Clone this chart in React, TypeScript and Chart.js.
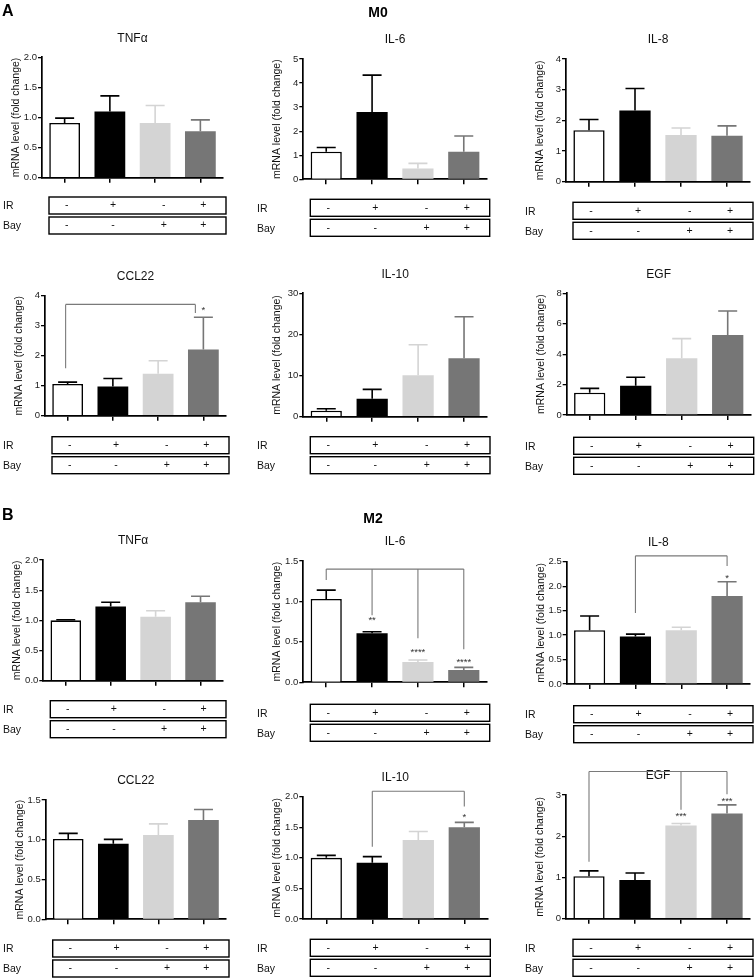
import React, { useEffect, useRef } from 'react';
import { Chart, registerables } from 'chart.js';
Chart.register(...registerables);

const FONT = '"Liberation Sans", Arial, Helvetica, sans-serif';

// ---- categories / table rows ----
const groups = ['Control', 'IR', 'Bay', 'IR + Bay'];
const irRow = ['-', '+', '-', '+'];
const bayRow = ['-', '-', '+', '+'];
const barColors = ['#ffffff', '#000000', '#d4d4d4', '#767676'];
const errColors = ['#000000', '#000000', '#d4d4d4', '#767676'];

// ---- M0 data (mean, SEM) ----
const m0TnfMean = [0.91, 1.10, 0.91, 0.77];
const m0TnfSem = [0.08, 0.26, 0.29, 0.19];
const m0Il6Mean = [1.15, 2.80, 0.45, 1.15];
const m0Il6Sem = [0.17, 1.53, 0.21, 0.65];
const m0Il8Mean = [1.68, 2.32, 1.52, 1.50];
const m0Il8Sem = [0.35, 0.72, 0.23, 0.32];
const m0Ccl22Mean = [1.06, 0.97, 1.40, 2.21];
const m0Ccl22Sem = [0.06, 0.27, 0.43, 1.07];
const m0Il10Mean = [1.46, 4.38, 10.1, 14.2];
const m0Il10Sem = [0.49, 2.27, 7.4, 10.1];
const m0EgfMean = [1.47, 1.93, 3.73, 5.26];
const m0EgfSem = [0.28, 0.55, 1.29, 1.58];

// ---- M2 data (mean, SEM) ----
const m2TnfMean = [1.00, 1.23, 1.06, 1.30];
const m2TnfSem = [0.01, 0.07, 0.10, 0.10];
const m2Il6Mean = [1.03, 0.606, 0.25, 0.152];
const m2Il6Sem = [0.11, 0.02, 0.026, 0.033];
const m2Il8Mean = [1.10, 0.97, 1.10, 1.80];
const m2Il8Sem = [0.29, 0.05, 0.06, 0.29];
const m2Ccl22Mean = [1.01, 0.95, 1.06, 1.25];
const m2Ccl22Sem = [0.07, 0.055, 0.14, 0.13];
const m2Il10Mean = [1.00, 0.92, 1.29, 1.50];
const m2Il10Sem = [0.04, 0.10, 0.14, 0.08];
const m2EgfMean = [1.03, 0.94, 2.26, 2.55];
const m2EgfSem = [0.13, 0.17, 0.05, 0.21];

// ---- axis ranges [max, step, decimals] ----
const m0Axes = [[2, 0.5, 1], [5, 1, 0], [4, 1, 0], [4, 1, 0], [30, 10, 0], [8, 2, 0]];
const m2Axes = [[2, 0.5, 1], [1.5, 0.5, 1], [2.5, 0.5, 1], [1.5, 0.5, 1], [2, 0.5, 1], [3, 1, 0]];
const panelTitles = ['TNFα', 'IL-6', 'IL-8', 'CCL22', 'IL-10', 'EGF'];

// ---- significance annotations (value units) ----
type Leg = { i: number; bottom: number; dx?: number };
type Bracket = { y: number; legs: Leg[] };
type Star = { i: number; y: number; text: string };
const m0Ccl22Brackets: Bracket[] = [{ y: 3.71, legs: [{ i: 0, bottom: 1.58, dx: -2 }, { i: 3, bottom: 3.42, dx: -8 }] }];
const m0Ccl22Stars: Star[] = [{ i: 3, y: 3.58, text: '*' }];
const m2Il6Brackets: Bracket[] = [{ y: 1.40, legs: [{ i: 0, bottom: 1.265 }, { i: 1, bottom: 0.83 }, { i: 2, bottom: 0.544 }, { i: 3, bottom: 0.41 }] }];
const m2Il6Stars: Star[] = [{ i: 1, y: 0.79, text: '**' }, { i: 2, y: 0.40, text: '****' }, { i: 3, y: 0.276, text: '****' }];
const m2Il8Brackets: Bracket[] = [{ y: 2.62, legs: [{ i: 1, bottom: 1.45 }, { i: 3, bottom: 2.41 }] }];
const m2Il8Stars: Star[] = [{ i: 3, y: 2.19, text: '*' }];
const m2Il10Brackets: Bracket[] = [{ y: 2.09, legs: [{ i: 1, bottom: 1.18 }, { i: 3, bottom: 1.84 }] }];
const m2Il10Stars: Star[] = [{ i: 3, y: 1.70, text: '*' }];
const m2EgfBrackets: Bracket[] = [{ y: 3.57, legs: [{ i: 0, bottom: 1.38 }, { i: 2, bottom: 2.64 }, { i: 3, bottom: 3.02 }] }];
const m2EgfStars: Star[] = [{ i: 2, y: 2.52, text: '***' }, { i: 3, y: 2.90, text: '***' }];

// ---- layout (page pixels) ----
const colLeft = [0, 250, 500];
const colWidth = [250, 250, 256];
const rowLabelX = [3, 257, 525];
const layouts = [
  { col: 0, axisX: 42, yTop: 57.3, yBot: 177.7, xEnd: 223, tableTop: 197 },
  { col: 1, axisX: 303.3, yTop: 59, yBot: 179.3, xEnd: 486.7, tableTop: 199.3 },
  { col: 2, axisX: 566, yTop: 59, yBot: 181.7, xEnd: 750, tableTop: 202.3 },
  { col: 0, axisX: 45, yTop: 295.7, yBot: 415.7, xEnd: 226, tableTop: 436.7 },
  { col: 1, axisX: 303.3, yTop: 293.3, yBot: 416.7, xEnd: 487, tableTop: 436.7 },
  { col: 2, axisX: 566.7, yTop: 293.3, yBot: 415, xEnd: 750.7, tableTop: 437.3 },
  { col: 0, axisX: 43.3, yTop: 560, yBot: 680.7, xEnd: 223, tableTop: 700.7 },
  { col: 1, axisX: 303.3, yTop: 561, yBot: 682.3, xEnd: 486.7, tableTop: 704.3 },
  { col: 2, axisX: 566.7, yTop: 561.7, yBot: 684, xEnd: 750, tableTop: 705.7 },
  { col: 0, axisX: 45.7, yTop: 800, yBot: 919.3, xEnd: 226, tableTop: 940 },
  { col: 1, axisX: 303.3, yTop: 796.7, yBot: 919, xEnd: 487.3, tableTop: 939.3 },
  { col: 2, axisX: 566, yTop: 795, yBot: 918.7, xEnd: 750, tableTop: 939.3 },
];

type PanelData = {
  title: string; means: number[]; sems: number[];
  max: number; step: number; dec: number;
  brackets: Bracket[]; stars: Star[];
};

const m0Means = [m0TnfMean, m0Il6Mean, m0Il8Mean, m0Ccl22Mean, m0Il10Mean, m0EgfMean];
const m0Sems = [m0TnfSem, m0Il6Sem, m0Il8Sem, m0Ccl22Sem, m0Il10Sem, m0EgfSem];
const m2Means = [m2TnfMean, m2Il6Mean, m2Il8Mean, m2Ccl22Mean, m2Il10Mean, m2EgfMean];
const m2Sems = [m2TnfSem, m2Il6Sem, m2Il8Sem, m2Ccl22Sem, m2Il10Sem, m2EgfSem];
const m0Br: Bracket[][] = [[], [], [], m0Ccl22Brackets, [], []];
const m0St: Star[][] = [[], [], [], m0Ccl22Stars, [], []];
const m2Br: Bracket[][] = [[], m2Il6Brackets, m2Il8Brackets, [], m2Il10Brackets, m2EgfBrackets];
const m2St: Star[][] = [[], m2Il6Stars, m2Il8Stars, [], m2Il10Stars, m2EgfStars];

const panels: PanelData[] = [
  ...panelTitles.map((t, k) => ({ title: t, means: m0Means[k], sems: m0Sems[k], max: m0Axes[k][0], step: m0Axes[k][1], dec: m0Axes[k][2], brackets: m0Br[k], stars: m0St[k] })),
  ...panelTitles.map((t, k) => ({ title: t, means: m2Means[k], sems: m2Sems[k], max: m2Axes[k][0], step: m2Axes[k][1], dec: m2Axes[k][2], brackets: m2Br[k], stars: m2St[k] })),
];

function Panel({ p, g }: { p: PanelData; g: typeof layouts[number] }) {
  const ref = useRef<HTMLCanvasElement>(null);
  const cLeft = colLeft[g.col];
  const cWidth = colWidth[g.col];
  const cTop = Math.round(g.yTop - 40);
  const cBottom = Math.min(979, Math.round(g.tableTop + 40));
  const cHeight = cBottom - cTop;

  useEffect(() => {
    const canvas = ref.current!;
    const overlay = {
      id: 'overlay',
      afterDatasetsDraw(chart: any) {
        const ctx = chart.ctx as CanvasRenderingContext2D;
        const ys = chart.scales.y;
        const meta = chart.getDatasetMeta(0);
        ctx.save();
        meta.data.forEach((bar: any, i: number) => {
          const x = bar.x;
          const y0 = ys.getPixelForValue(p.means[i]);
          const y1 = ys.getPixelForValue(p.means[i] + p.sems[i]);
          ctx.strokeStyle = errColors[i];
          ctx.lineWidth = 1.6;
          ctx.beginPath();
          ctx.moveTo(x, y0);
          ctx.lineTo(x, y1);
          ctx.moveTo(x - 9.5, y1);
          ctx.lineTo(x + 9.5, y1);
          ctx.stroke();
        });
        ctx.restore();
      },
      afterDraw(chart: any) {
        const ctx = chart.ctx as CanvasRenderingContext2D;
        const ca = chart.chartArea;
        const ys = chart.scales.y;
        const meta = chart.getDatasetMeta(0);
        ctx.save();
        // title
        ctx.fillStyle = '#111';
        ctx.font = `12px ${FONT}`;
        ctx.textAlign = 'center';
        ctx.textBaseline = 'middle';
        ctx.fillText(p.title, (ca.left + ca.right) / 2, ca.top - 19);
        // y title
        ctx.save();
        ctx.translate(ca.left - 26, (ca.top + ca.bottom) / 2);
        ctx.rotate(-Math.PI / 2);
        ctx.font = `10.5px ${FONT}`;
        ctx.fillText('mRNA level (fold change)', 0, 0);
        ctx.restore();
        // brackets
        ctx.strokeStyle = '#7a7a7a';
        ctx.lineWidth = 1.1;
        p.brackets.forEach((b) => {
          const yy = ys.getPixelForValue(b.y);
          const xs = b.legs.map((l) => meta.data[l.i].x + (l.dx || 0));
          ctx.beginPath();
          ctx.moveTo(Math.min(...xs), yy);
          ctx.lineTo(Math.max(...xs), yy);
          b.legs.forEach((l, k) => {
            ctx.moveTo(xs[k], yy);
            ctx.lineTo(xs[k], ys.getPixelForValue(l.bottom));
          });
          ctx.stroke();
        });
        ctx.fillStyle = '#333';
        ctx.font = `9.5px ${FONT}`;
        p.stars.forEach((s) => {
          ctx.fillText(s.text, meta.data[s.i].x, ys.getPixelForValue(s.y) + 2);
        });
        // table
        const bl = ca.left + 7;
        const br = ca.right + 3;
        const bw = br - bl;
        const t0 = g.tableTop - cTop;
        const fr = [0.1, 0.362, 0.648, 0.872];
        ctx.strokeStyle = '#000';
        ctx.lineWidth = 1.4;
        ctx.strokeRect(bl, t0, bw, 17);
        ctx.strokeRect(bl, t0 + 20, bw, 17);
        ctx.fillStyle = '#111';
        ctx.font = `10.5px ${FONT}`;
        ctx.textAlign = 'center';
        irRow.forEach((s, i) => ctx.fillText(s, bl + fr[i] * bw, t0 + 8.5));
        bayRow.forEach((s, i) => ctx.fillText(s, bl + fr[i] * bw, t0 + 28.5));
        ctx.textAlign = 'left';
        ctx.font = `10.5px ${FONT}`;
        const lx = rowLabelX[g.col] - cLeft;
        ctx.fillText('IR', lx, t0 + 9.5);
        ctx.fillText('Bay', lx, t0 + 29.5);
        ctx.restore();
      },
    };
    const chart = new Chart(canvas, {
      type: 'bar',
      data: {
        labels: groups,
        datasets: [{
          data: p.means,
          backgroundColor: barColors,
          borderColor: ['#000', '#000', '#d4d4d4', '#767676'],
          borderWidth: [1.6, 0, 0, 0],
          barPercentage: 0.68,
          categoryPercentage: 1,
        }],
      },
      options: {
        responsive: false,
        animation: false,
        events: [],
        layout: { padding: { top: g.yTop - cTop, right: cLeft + cWidth - g.xEnd, bottom: 0, left: 0 } },
        plugins: { legend: { display: false }, tooltip: { enabled: false }, title: { display: false } },
        scales: {
          x: {
            type: 'category',
            offset: true,
            ticks: { display: false },
            grid: { drawOnChartArea: false, offset: false, tickLength: 5, color: '#000', lineWidth: 1.5 },
            border: { display: true, color: '#000', width: 1.7 },
            afterFit: (s: any) => { s.height = cBottom - g.yBot; },
          },
          y: {
            min: 0,
            max: p.max,
            ticks: {
              stepSize: p.step,
              padding: 1,
              color: '#222',
              font: { family: FONT, size: 9.5 },
              callback: (v: any) => Number(v).toFixed(p.dec),
            },
            grid: { drawOnChartArea: false, tickLength: 4, color: '#000', lineWidth: 1.3 },
            border: { display: true, color: '#000', width: 1.7 },
            afterFit: (s: any) => { s.width = g.axisX - cLeft; },
          },
        },
      },
      plugins: [overlay],
    } as any);
    return () => chart.destroy();
  }, []);

  return (
    <canvas
      ref={ref}
      width={cWidth}
      height={cHeight}
      style={{ position: 'absolute', left: cLeft, top: cTop, width: cWidth, height: cHeight }}
    />
  );
}

export default function App() {
  const label = (text: string, left: number, top: number, size: number, center = false) => (
    <div
      style={{
        position: 'absolute', left, top, fontFamily: FONT, fontWeight: 'bold', fontSize: size,
        lineHeight: 1, color: '#000', transform: center ? 'translateX(-50%)' : undefined, whiteSpace: 'nowrap',
      }}
    >
      {text}
    </div>
  );
  return (
    <div style={{ position: 'absolute', left: 0, top: 0, width: 756, height: 979, background: '#fff', overflow: 'hidden' }}>
      {panels.map((p, k) => (
        <Panel key={k} p={p} g={layouts[k]} />
      ))}
      {label('A', 2, 3, 16)}
      {label('B', 2, 507, 16)}
      {label('M0', 378, 5, 14, true)}
      {label('M2', 373, 511, 14, true)}
    </div>
  );
}
